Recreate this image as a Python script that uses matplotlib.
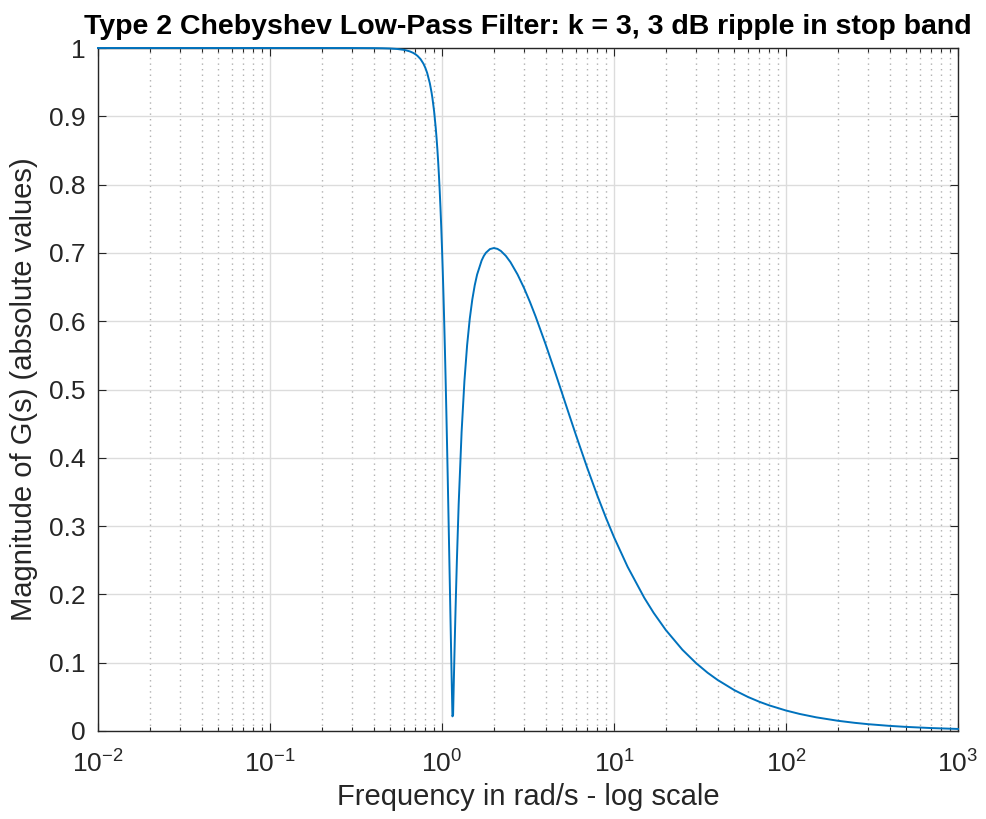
import matplotlib
matplotlib.use("Agg")
import matplotlib.pyplot as plt
from matplotlib.ticker import LogLocator, NullFormatter

plt.rcParams['font.family'] = ['Liberation Sans', 'DejaVu Sans']
plt.rcParams['mathtext.fontset'] = 'custom'
plt.rcParams['mathtext.rm'] = 'Liberation Sans'
plt.rcParams['mathtext.it'] = 'Liberation Sans'

# Frequency (rad/s) and |G(jw)|
freq = [0.01, 0.015, 0.02, 0.03, 0.05, 0.1, 0.2, 0.3, 0.4, 0.45, 0.5, 0.55,
        0.6, 0.62, 0.65, 0.68, 0.7, 0.72, 0.75, 0.78, 0.8, 0.82, 0.85, 0.87,
        0.88, 0.9, 0.92, 0.93, 0.94, 0.95, 0.96, 0.97, 0.98, 0.99, 1.0, 1.01,
        1.015, 1.02, 1.03, 1.04, 1.05, 1.06, 1.07, 1.08, 1.09, 1.1, 1.11, 1.12,
        1.13, 1.14, 1.15, 1.16, 1.17, 1.18, 1.19, 1.2, 1.22, 1.25, 1.3, 1.35,
        1.4, 1.45, 1.5, 1.55, 1.6, 1.7, 1.75, 1.8, 1.9, 2.0, 2.1, 2.2, 2.35,
        2.5, 2.75, 3.0, 3.25, 3.5, 4.0, 4.5, 5.0, 5.5, 6.0, 7.0, 8.0, 9.0,
        10.0, 12.0, 15.0, 17.0, 20.0, 25.0, 30.0, 35.0, 40.0, 50.0, 60.0,
        70.0, 80.0, 100.0, 120.0, 150.0, 200.0, 250.0, 300.0, 400.0, 500.0,
        700.0, 1000.0]
mag = [1.0, 1.0, 1.0, 1.0, 1.0, 1.0, 1.0, 0.99997, 0.99983, 0.99964, 0.99926,
       0.99855, 0.9973, 0.9965, 0.995, 0.99284, 0.9909, 0.98854, 0.9838,
       0.97701, 0.971, 0.96344, 0.9482, 0.93453, 0.92641, 0.907, 0.88246,
       0.86789, 0.85158, 0.8333, 0.81297, 0.7903, 0.76523, 0.73752, 0.7071,
       0.67387, 0.6562, 0.63781, 0.599, 0.5574, 0.5134, 0.46711, 0.419,
       0.3695, 0.31888, 0.2678, 0.21678, 0.1662, 0.11653, 0.0681, 0.0214,
       0.02357, 0.0665, 0.10723, 0.14578, 0.1821, 0.24817, 0.332, 0.4378,
       0.51225, 0.5652, 0.60352, 0.6317, 0.65262, 0.6683, 0.6889, 0.69549,
       0.7002, 0.7056, 0.7071, 0.70592, 0.7028, 0.69566, 0.6865, 0.66839,
       0.6485, 0.6278, 0.607, 0.5665, 0.52864, 0.4939, 0.46234, 0.4338,
       0.3848, 0.3447, 0.31153, 0.2838, 0.2404, 0.195, 0.17301, 0.1479,
       0.1189, 0.0994, 0.08531, 0.0748, 0.0599, 0.04992, 0.0428, 0.03747,
       0.03, 0.02499, 0.02, 0.015, 0.012, 0.01, 0.0075, 0.006, 0.00429, 0.003]

xticks = [0.01, 0.1, 1, 10, 100, 1000]
xtick_labels = [r'$\mathregular{10^{-2}}$', r'$\mathregular{10^{-1}}$',
                r'$\mathregular{10^{0}}$', r'$\mathregular{10^{1}}$',
                r'$\mathregular{10^{2}}$', r'$\mathregular{10^{3}}$']
yticks = [0, 0.1, 0.2, 0.3, 0.4, 0.5, 0.6, 0.7, 0.8, 0.9, 1.0]
ytick_labels = ['0', '0.1', '0.2', '0.3', '0.4', '0.5', '0.6', '0.7', '0.8', '0.9', '1']

fig = plt.figure(figsize=(9.86, 8.19), dpi=100)
ax = fig.add_axes([98/986, 1 - 731/819, (958-98)/986, (731-48)/819])

ax.plot(freq, mag, color='#0072BD', lw=1.4, zorder=3, clip_on=False)
ax.set_xscale('log')
ax.set_xlim(0.01, 1000)
ax.set_ylim(0, 1)

ax.set_xticks(xticks)
ax.set_xticklabels(xtick_labels)
ax.xaxis.set_minor_locator(LogLocator(base=10, subs=range(2, 10), numticks=100))
ax.xaxis.set_minor_formatter(NullFormatter())
ax.set_yticks(yticks)
ax.set_yticklabels(ytick_labels)

ax.grid(True, which='major', color='#dcdcdc', lw=1.0, ls='-')
ax.grid(True, which='minor', axis='x', color='#b0b0b0', lw=1.0, ls=(0, (1, 3)))
ax.set_axisbelow(True)

ax.tick_params(which='both', direction='in', top=True, right=True,
               colors='#262626', labelcolor='#262626', labelsize=19, width=0.8)
ax.tick_params(which='major', length=6)
ax.tick_params(axis='y', which='major', pad=9)
ax.tick_params(axis='x', which='major', pad=14)
ax.tick_params(which='minor', length=3)
for s in ax.spines.values():
    s.set_color('#262626')
    s.set_linewidth(1.0)

ax.set_xlabel('Frequency in rad/s - log scale', fontsize=21, color='#262626', labelpad=4)
ax.set_ylabel('Magnitude of G(s) (absolute values)', fontsize=21, color='#262626', labelpad=8)
ax.set_title('Type 2 Chebyshev Low-Pass Filter: k = 3, 3 dB ripple in stop band',
             fontsize=20.5, fontweight='bold', color='black', pad=10)

fig.savefig('out.png', dpi=100)
